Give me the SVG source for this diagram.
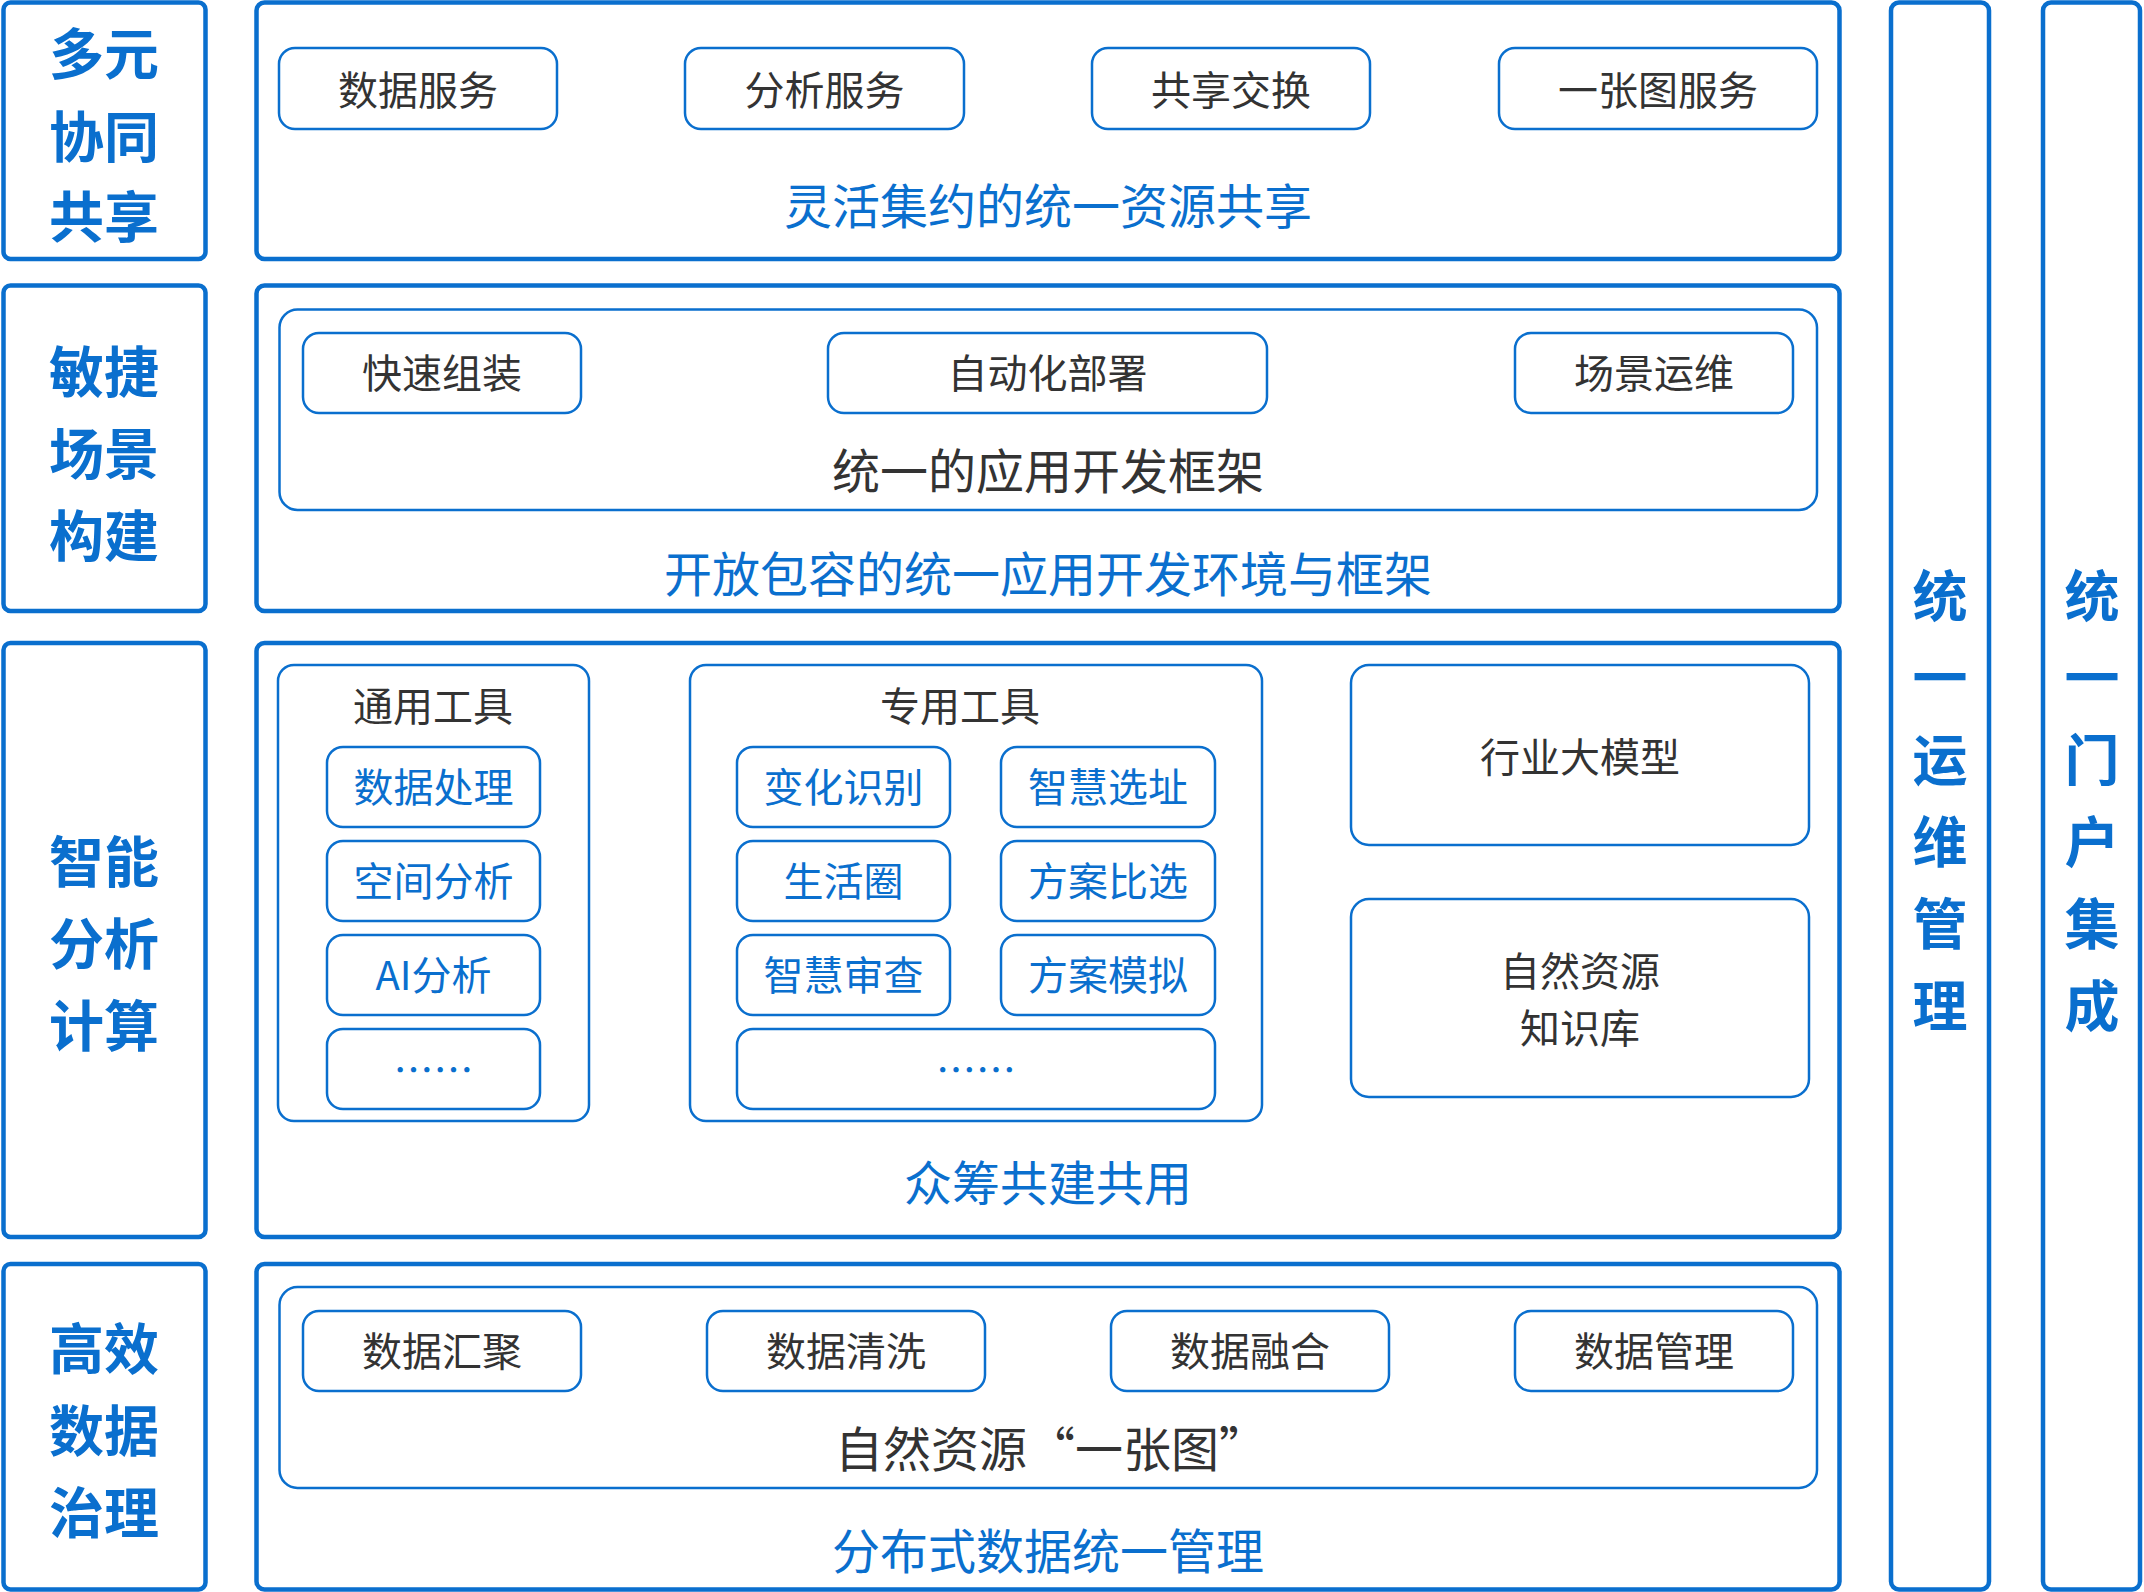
<svg xmlns="http://www.w3.org/2000/svg" width="2144" height="1592" viewBox="0 0 2144 1592">
<style>
.outer{fill:#fff;stroke:#0a6fce;stroke-width:4.5}
.frame{fill:none;stroke:#0a6fce;stroke-width:2.5}
.box{fill:#fff;stroke:#0a6fce;stroke-width:2.5}
text{font-family:"Noto Sans CJK SC","Noto Sans",sans-serif;dominant-baseline:central;text-anchor:middle}
.lbl{font-size:55px;font-weight:bold;fill:#0a6fce}
.dk{font-size:40px;fill:#333}
.bl{font-size:40px;fill:#0a6fce}
.cap{font-size:48px;fill:#0a6fce}
.big{font-size:48px;fill:#333}
</style>
<rect width="2144" height="1592" fill="#fff"/>

<g id="side-labels">
<g id="row1-label"><rect class="outer" x="3.5" y="2.5" width="202" height="256.5" rx="7"/>
<text class="lbl" x="104" y="50">多元</text><text class="lbl" x="104" y="133">协同</text><text class="lbl" x="104" y="213">共享</text></g>
<g id="row2-label"><rect class="outer" x="3.5" y="285.5" width="202" height="325.5" rx="7"/>
<text class="lbl" x="104" y="368">敏捷</text><text class="lbl" x="104" y="450">场景</text><text class="lbl" x="104" y="532">构建</text></g>
<g id="row3-label"><rect class="outer" x="3.5" y="643" width="202" height="594" rx="7"/>
<text class="lbl" x="104" y="858">智能</text><text class="lbl" x="104" y="940">分析</text><text class="lbl" x="104" y="1022">计算</text></g>
<g id="row4-label"><rect class="outer" x="3.5" y="1264" width="202" height="325.5" rx="7"/>
<text class="lbl" x="104" y="1345">高效</text><text class="lbl" x="104" y="1427">数据</text><text class="lbl" x="104" y="1509">治理</text></g>
</g>

<g id="row1">
<rect class="outer" x="256.5" y="2.5" width="1583" height="256.5" rx="8"/>
<g id="n-data-service"><rect class="box" x="279" y="48" width="278" height="81" rx="16"/><text class="dk" x="418" y="88">数据服务</text></g>
<g id="n-analysis-service"><rect class="box" x="685" y="48" width="279" height="81" rx="16"/><text class="dk" x="824.5" y="88">分析服务</text></g>
<g id="n-share-exchange"><rect class="box" x="1092" y="48" width="278" height="81" rx="16"/><text class="dk" x="1231" y="88">共享交换</text></g>
<g id="n-onemap-service"><rect class="box" x="1499" y="48" width="318" height="81" rx="16"/><text class="dk" x="1658" y="88">一张图服务</text></g>
<text class="cap" x="1048" y="203">灵活集约的统一资源共享</text>
</g>

<g id="row2">
<rect class="outer" x="256.5" y="285.5" width="1583" height="325.5" rx="8"/>
<rect class="frame" x="279.5" y="309.5" width="1537.5" height="200.5" rx="18"/>
<g id="n-quick-assembly"><rect class="box" x="303" y="333" width="278" height="80" rx="16"/><text class="dk" x="442" y="371">快速组装</text></g>
<g id="n-auto-deploy"><rect class="box" x="828" y="333" width="439" height="80" rx="16"/><text class="dk" x="1047.5" y="371">自动化部署</text></g>
<g id="n-scene-ops"><rect class="box" x="1515" y="333" width="278" height="80" rx="16"/><text class="dk" x="1654" y="371">场景运维</text></g>
<text class="big" x="1048" y="468">统一的应用开发框架</text>
<text class="cap" x="1048" y="571">开放包容的统一应用开发环境与框架</text>
</g>

<g id="row3">
<rect class="outer" x="256.5" y="643" width="1583" height="594" rx="8"/>
<g id="n-general-tools">
<rect class="frame" x="278" y="665" width="311" height="456" rx="16"/>
<text class="dk" x="433" y="704">通用工具</text>
<rect class="box" x="327" y="747" width="213" height="80" rx="16"/><text class="bl" x="433.5" y="785">数据处理</text>
<rect class="box" x="327" y="841" width="213" height="80" rx="16"/><text class="bl" x="433.5" y="879">空间分析</text>
<rect class="box" x="327" y="935" width="213" height="80" rx="16"/><text class="bl" x="433.5" y="973">AI分析</text>
<rect class="box" x="327" y="1029" width="213" height="80" rx="16"/><text class="bl" x="433.5" y="1068">……</text>
</g>
<g id="n-special-tools">
<rect class="frame" x="690" y="665" width="572" height="456" rx="16"/>
<text class="dk" x="960" y="704">专用工具</text>
<rect class="box" x="737" y="747" width="213" height="80" rx="16"/><text class="bl" x="843.5" y="785">变化识别</text>
<rect class="box" x="1001" y="747" width="214" height="80" rx="16"/><text class="bl" x="1108" y="785">智慧选址</text>
<rect class="box" x="737" y="841" width="213" height="80" rx="16"/><text class="bl" x="843.5" y="879">生活圈</text>
<rect class="box" x="1001" y="841" width="214" height="80" rx="16"/><text class="bl" x="1108" y="879">方案比选</text>
<rect class="box" x="737" y="935" width="213" height="80" rx="16"/><text class="bl" x="843.5" y="973">智慧审查</text>
<rect class="box" x="1001" y="935" width="214" height="80" rx="16"/><text class="bl" x="1108" y="973">方案模拟</text>
<rect class="box" x="737" y="1029" width="478" height="80" rx="16"/><text class="bl" x="976" y="1068">……</text>
</g>
<g id="n-industry-model"><rect class="box" x="1351" y="665" width="458" height="180" rx="18"/><text class="dk" x="1580" y="755">行业大模型</text></g>
<g id="n-knowledge-base"><rect class="box" x="1351" y="899" width="458" height="198" rx="18"/><text class="dk" x="1580" y="969">自然资源</text><text class="dk" x="1580" y="1026">知识库</text></g>
<text class="cap" x="1048" y="1180">众筹共建共用</text>
</g>

<g id="row4">
<rect class="outer" x="256.5" y="1264" width="1583" height="325.5" rx="8"/>
<rect class="frame" x="279.5" y="1287" width="1537.5" height="201" rx="18"/>
<g id="n-data-aggregate"><rect class="box" x="303" y="1311" width="278" height="80" rx="16"/><text class="dk" x="442" y="1349">数据汇聚</text></g>
<g id="n-data-clean"><rect class="box" x="707" y="1311" width="278" height="80" rx="16"/><text class="dk" x="846" y="1349">数据清洗</text></g>
<g id="n-data-fusion"><rect class="box" x="1111" y="1311" width="278" height="80" rx="16"/><text class="dk" x="1250" y="1349">数据融合</text></g>
<g id="n-data-manage"><rect class="box" x="1515" y="1311" width="278" height="80" rx="16"/><text class="dk" x="1654" y="1349">数据管理</text></g>
<text class="big" x="835" y="1446" style="text-anchor:start">自然资源“一张图”</text>
<text class="cap" x="1048" y="1548">分布式数据统一管理</text>
</g>

<g id="col-ops">
<rect class="outer" x="1891" y="2.5" width="98" height="1587" rx="8"/>
<text class="lbl" x="1940" y="592">统</text><text class="lbl" x="1940" y="674">一</text><text class="lbl" x="1940" y="756">运</text><text class="lbl" x="1940" y="838">维</text><text class="lbl" x="1940" y="920">管</text><text class="lbl" x="1940" y="1002">理</text>
</g>
<g id="col-portal">
<rect class="outer" x="2043" y="2.5" width="97" height="1587" rx="8"/>
<text class="lbl" x="2092" y="592">统</text><text class="lbl" x="2092" y="674">一</text><text class="lbl" x="2092" y="756">门</text><text class="lbl" x="2092" y="838">户</text><text class="lbl" x="2092" y="920">集</text><text class="lbl" x="2092" y="1002">成</text>
</g>
<g id="connectors"></g>
</svg>
